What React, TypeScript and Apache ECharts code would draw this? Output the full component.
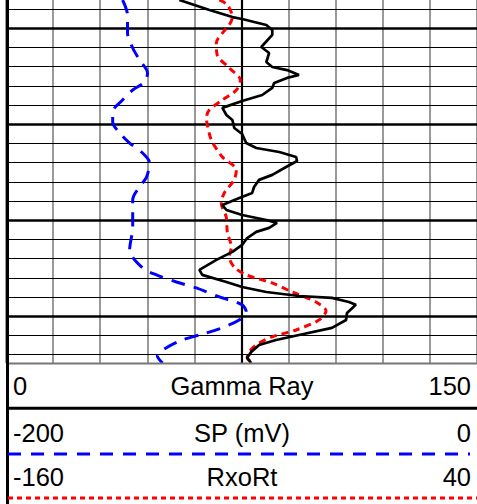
import React, { useEffect, useRef } from "react";
import * as echarts from "echarts";

// Gamma Ray (API), 0 - 150
const grDepth = [1035.3, 1040.5, 1044.2, 1045.2, 1048.3, 1050.9, 1053.5, 1059.8, 1062.9, 1067.6, 1070.2, 1071.8, 1074.4, 1075.9, 1078.5, 1081.1, 1084.8, 1087.9, 1091.5, 1095.2, 1097.8, 1102.0, 1105.1, 1109.8, 1112.4, 1114.5, 1117.1, 1119.2, 1122.3, 1126.4, 1129.0, 1132.7, 1135.8, 1138.4, 1142.1, 1144.7, 1147.3, 1149.9, 1151.4, 1154.0, 1156.1, 1159.3, 1162.9, 1166.5, 1170.7, 1175.9, 1178.5, 1182.2, 1184.8, 1187.4, 1189.5, 1190.5, 1192.6, 1194.1, 1198.3, 1202.0, 1206.1, 1209.8, 1212.4, 1215.0, 1218.6, 1221.7, 1224.4];
const grValue = [55.2, 64.8, 72.1, 75.2, 82.9, 84.8, 84.8, 81.3, 83.8, 82.9, 84.8, 89.5, 93.3, 89.5, 85.4, 84.8, 81.6, 75.2, 68.9, 70.2, 72.1, 72.7, 75.2, 76.5, 79.7, 87.0, 92.4, 92.7, 89.2, 84.8, 80.6, 79.0, 78.4, 74.3, 68.9, 70.2, 75.2, 82.9, 86.3, 83.8, 79.7, 76.8, 75.2, 72.1, 67.0, 61.6, 62.5, 70.2, 75.2, 82.9, 93.3, 103.8, 109.2, 111.4, 108.6, 108.3, 103.8, 93.3, 86.0, 80.6, 78.1, 76.8, 78.1];

// SP (mV), -200 - 0
const spDepth = [1035.3, 1043.1, 1052.5, 1060.3, 1066.5, 1073.3, 1078.0, 1082.2, 1087.4, 1093.6, 1098.8, 1104.6, 1109.8, 1115.0, 1120.2, 1127.5, 1130.6, 1139.5, 1153.5, 1165.5, 1174.9, 1178.5, 1182.2, 1185.3, 1190.0, 1194.1, 1197.8, 1202.0, 1206.6, 1209.8, 1212.4, 1216.5, 1220.7, 1224.4];
const spValue = [-150.5, -148.4, -148.4, -146.2, -143.3, -139.9, -141.2, -146.2, -150.5, -154.7, -154.7, -151.7, -147.5, -142.0, -139.0, -140.3, -142.0, -146.2, -146.2, -147.5, -142.0, -136.1, -127.6, -119.2, -109.4, -99.7, -98.0, -101.0, -109.4, -117.9, -125.1, -131.9, -135.7, -133.5];

// RxoRt, -160 - 40
const rxoDepth = [1035.3, 1037.9, 1044.2, 1048.3, 1052.5, 1057.7, 1064.0, 1070.7, 1077.0, 1082.2, 1087.4, 1092.6, 1096.8, 1100.4, 1108.2, 1117.1, 1123.8, 1129.0, 1135.8, 1141.0, 1148.3, 1156.6, 1163.9, 1169.1, 1174.4, 1178.5, 1182.7, 1187.4, 1192.6, 1197.3, 1202.0, 1207.2, 1210.8, 1215.0, 1218.6, 1221.7, 1224.4];
const rxoValue = [-69.4, -66.0, -63.9, -65.2, -68.1, -70.7, -70.3, -65.2, -60.5, -62.2, -68.1, -73.7, -74.9, -74.5, -72.8, -68.1, -62.2, -63.1, -67.3, -68.6, -66.5, -66.0, -64.3, -65.2, -63.1, -58.0, -47.0, -38.5, -28.4, -24.1, -27.1, -36.8, -47.0, -53.8, -56.7, -57.6, -55.0];

// Depth grid lines (ft): minor every 10, major every 50
const gridDepths = [1040, 1050, 1060, 1070, 1080, 1090, 1100, 1110, 1120, 1130, 1140, 1150, 1160, 1170, 1180, 1190, 1200, 1210, 1220];
const majorStep = 50;
const depthRange = [1035.3, 1224.4];

// Track scales
const grScale = [0, 150];
const spScale = [-200, 0];
const rxoScale = [-160, 40];
const grCutoff = 75;

const headerRows = [
  { left: String(grScale[0]), name: "Gamma Ray", right: String(grScale[1]) },
  { left: String(spScale[0]), name: "SP (mV)", right: String(spScale[1]) },
  { left: String(rxoScale[0]), name: "RxoRt", right: String(rxoScale[1]) },
];

export default function App() {
  const ref = useRef<HTMLDivElement>(null);
  useEffect(() => {
    document.body.style.margin = "0";
    if (!ref.current) return;
    const chart = echarts.init(ref.current, null, { renderer: "svg" });
    const font = "Liberation Sans, Arial, sans-serif";
    const rowY = [386, 433, 477];
    const fs = 25.5;
    const texts: any[] = [];
    headerRows.forEach((r, i) => {
      texts.push({ type: "text", x: 13, y: rowY[i], style: { text: r.left, fontSize: fs, fontFamily: font, fill: "#000", align: "left", verticalAlign: "middle" }, z: 10 });
      texts.push({ type: "text", x: 242, y: rowY[i], style: { text: r.name, fontSize: fs, fontFamily: font, fill: "#000", align: "center", verticalAlign: "middle" }, z: 10 });
      texts.push({ type: "text", x: 471, y: rowY[i], style: { text: r.right, fontSize: fs, fontFamily: font, fill: "#000", align: "right", verticalAlign: "middle" }, z: 10 });
    });
    chart.setOption({
      animation: false,
      backgroundColor: "#fff",
      grid: { left: 6, top: 0, width: 472.5, height: 363 },
      xAxis: [
        {
          type: "value", min: grScale[0], max: grScale[1], interval: 15,
          axisLine: { show: false }, axisTick: { show: false }, axisLabel: { show: false },
          splitLine: { show: true, lineStyle: { color: "#808080", width: 1.6 } },
        },
        { type: "value", min: spScale[0], max: spScale[1], show: false, splitLine: { show: false } },
        { type: "value", min: rxoScale[0], max: rxoScale[1], show: false, splitLine: { show: false } },
      ],
      yAxis: { type: "value", inverse: true, min: depthRange[0], max: depthRange[1], show: false, splitLine: { show: false } },
      series: [
        {
          name: "Gamma Ray", type: "line", xAxisIndex: 0, symbol: "none", z: 4,
          data: grDepth.map((d, i) => [grValue[i], d]),
          lineStyle: { color: "#000", width: 2.7 },
          markLine: {
            symbol: "none", silent: true, z: 1, animation: false,
            label: { show: false },
            data: [
              ...gridDepths.map((d) => ({ yAxis: d, lineStyle: { color: "#000", type: "solid", width: d % majorStep === 0 ? 2.5 : 1.2 } })),
              { xAxis: grCutoff, lineStyle: { color: "#000", type: "solid", width: 2.2 } },
            ],
          },
        },
        {
          name: "SP", type: "line", xAxisIndex: 1, symbol: "none", smooth: 0.3, z: 3,
          data: spDepth.map((d, i) => [spValue[i], d]),
          lineStyle: { color: "#0000ff", width: 3, type: [14, 9] },
        },
        {
          name: "RxoRt", type: "line", xAxisIndex: 2, symbol: "none", smooth: 0.3, z: 3,
          data: rxoDepth.map((d, i) => [rxoValue[i], d]),
          lineStyle: { color: "#ff0000", width: 3, type: [7, 5] },
        },
      ],
      graphic: [
        { type: "line", shape: { x1: 7, y1: 363.5, x2: 477, y2: 363.5 }, style: { stroke: "#777", lineWidth: 2 }, z: 10 },
        { type: "line", shape: { x1: 7.5, y1: 0, x2: 7.5, y2: 504 }, style: { stroke: "#000", lineWidth: 3 }, z: 10 },
        { type: "line", shape: { x1: 7, y1: 408.3, x2: 477, y2: 408.3 }, style: { stroke: "#000", lineWidth: 3 }, z: 10 },
        { type: "line", shape: { x1: 8, y1: 454, x2: 470, y2: 454 }, style: { stroke: "#0000ff", lineWidth: 3, lineDash: [13, 10] }, z: 10 },
        { type: "line", shape: { x1: 8, y1: 498, x2: 477, y2: 498 }, style: { stroke: "#ff0000", lineWidth: 3, lineDash: [5, 4] }, z: 10 },
        ...texts,
      ],
    });
    return () => chart.dispose();
  }, []);
  return <div ref={ref} style={{ position: "fixed", left: 0, top: 0, width: 477, height: 504 }} />;
}
